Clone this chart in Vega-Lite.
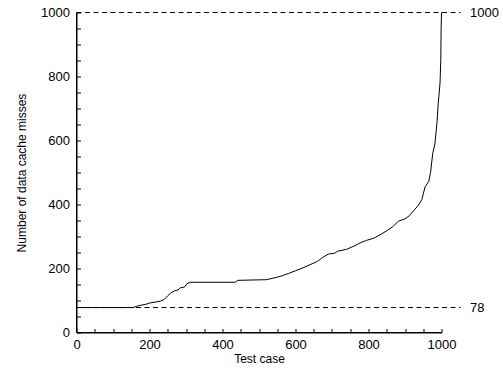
{
  "$schema": "https://vega.github.io/schema/vega-lite/v6.json",
  "width": 365,
  "height": 320,
  "autosize": {"type": "none"},
  "padding": {"left": 76.5, "top": 12.5, "right": 61.5, "bottom": 35.5},
  "background": "white",
  "config": {
    "view": {"stroke": null},
    "font": "Liberation Sans",
    "axis": {
      "grid": false,
      "labelColor": "black",
      "labelFont": "Liberation Sans",
      "labelFontSize": 13,
      "titleColor": "black",
      "titleFont": "Liberation Sans",
      "titleFontSize": 12,
      "titleFontWeight": "normal"
    }
  },
  "resolve": {"axis": {"x": "independent", "y": "independent"}},
  "datasets": {
    "curve": [
      {"test": 0, "misses": 78}, {"test": 150, "misses": 78}, {"test": 155, "misses": 78},
      {"test": 165, "misses": 82}, {"test": 175, "misses": 85}, {"test": 190, "misses": 88},
      {"test": 200, "misses": 92}, {"test": 215, "misses": 95}, {"test": 230, "misses": 98},
      {"test": 240, "misses": 103}, {"test": 250, "misses": 115}, {"test": 260, "misses": 125},
      {"test": 268, "misses": 130}, {"test": 278, "misses": 133}, {"test": 285, "misses": 140},
      {"test": 296, "misses": 142}, {"test": 302, "misses": 152}, {"test": 312, "misses": 157},
      {"test": 435, "misses": 157}, {"test": 442, "misses": 163}, {"test": 520, "misses": 165},
      {"test": 540, "misses": 170}, {"test": 560, "misses": 176}, {"test": 580, "misses": 184},
      {"test": 600, "misses": 193}, {"test": 620, "misses": 202}, {"test": 640, "misses": 212},
      {"test": 660, "misses": 222}, {"test": 675, "misses": 235}, {"test": 690, "misses": 245},
      {"test": 708, "misses": 248}, {"test": 715, "misses": 254}, {"test": 740, "misses": 260},
      {"test": 760, "misses": 270}, {"test": 777, "misses": 280}, {"test": 795, "misses": 288},
      {"test": 815, "misses": 295}, {"test": 836, "misses": 308}, {"test": 850, "misses": 318},
      {"test": 868, "misses": 332}, {"test": 882, "misses": 348}, {"test": 900, "misses": 355},
      {"test": 912, "misses": 365}, {"test": 923, "misses": 380}, {"test": 935, "misses": 395},
      {"test": 946, "misses": 415}, {"test": 955, "misses": 455}, {"test": 965, "misses": 472},
      {"test": 970, "misses": 500}, {"test": 976, "misses": 560}, {"test": 982, "misses": 590},
      {"test": 988, "misses": 660}, {"test": 991, "misses": 715}, {"test": 996, "misses": 780},
      {"test": 998, "misses": 850}, {"test": 999, "misses": 950}, {"test": 1000, "misses": 1000}
    ],
    "refs": [
      {"start": 0, "end": 1052, "labelx": 1078, "value": 1000, "label": "1000"},
      {"start": 0, "end": 1052, "labelx": 1078, "value": 78, "label": "78"}
    ],
    "frame": [
      {"x0": 0, "x1": 1000, "y0": 0, "y1": 0},
      {"x0": 0, "x1": 0, "y0": 0, "y1": 1000}
    ]
  },
  "layer": [
    {
      "data": {"name": "curve"},
      "mark": {"type": "line", "color": "black", "strokeWidth": 1, "interpolate": "linear"},
      "encoding": {
        "x": {
          "field": "test", "type": "quantitative",
          "scale": {"domain": [0, 1000], "nice": false, "zero": false},
          "axis": {
            "title": "Test case",
            "orient": "bottom",
            "domain": true,
            "domainColor": "#000000",
            "domainWidth": 1,
            "ticks": true,
            "tickColor": "#000000",
            "tickWidth": 1,
            "tickSize": -4,
            "values": [0,50,100,150,200,250,300,350,400,450,500,550,600,650,700,750,800,850,900,950,1000],
            "labelExpr": "datum.value % 200 === 0 ? datum.label : ''",
            "format": "d",
            "labelPadding": 10,
            "labelFlush": false,
            "labelOverlap": false,
            "titlePadding": 2
          }
        },
        "y": {
          "field": "misses", "type": "quantitative",
          "scale": {"domain": [0, 1000], "nice": false, "zero": false},
          "axis": {
            "title": "Number of data cache misses",
            "orient": "left",
            "domain": true,
            "domainColor": "#000000",
            "domainWidth": 1,
            "ticks": true,
            "tickColor": "#000000",
            "tickWidth": 1,
            "tickSize": -4,
            "values": [0,50,100,150,200,250,300,350,400,450,500,550,600,650,700,750,800,850,900,950,1000],
            "labelExpr": "datum.value % 200 === 0 ? datum.label : ''",
            "format": "d",
            "labelPadding": 11,
            "labelFlush": false,
            "labelOverlap": false,
            "titlePadding": 12
          }
        }
      }
    },
    {
      "data": {"name": "frame"},
      "mark": {"type": "rule", "color": "black", "strokeWidth": 1},
      "encoding": {
        "x": {"field": "x0", "type": "quantitative", "axis": null},
        "x2": {"field": "x1"},
        "y": {"field": "y0", "type": "quantitative", "axis": null},
        "y2": {"field": "y1"}
      }
    },
    {
      "data": {"name": "refs"},
      "mark": {"type": "rule", "color": "black", "strokeWidth": 1, "strokeDash": [5, 3.5]},
      "encoding": {
        "x": {"field": "start", "type": "quantitative", "axis": null},
        "x2": {"field": "end"},
        "y": {"field": "value", "type": "quantitative", "axis": null}
      }
    },
    {
      "data": {"name": "refs"},
      "mark": {"type": "text", "align": "left", "baseline": "middle", "fontSize": 13, "color": "black", "font": "Liberation Sans"},
      "encoding": {
        "x": {"field": "labelx", "type": "quantitative", "axis": null},
        "y": {"field": "value", "type": "quantitative", "axis": null},
        "text": {"field": "label"}
      }
    }
  ]
}
